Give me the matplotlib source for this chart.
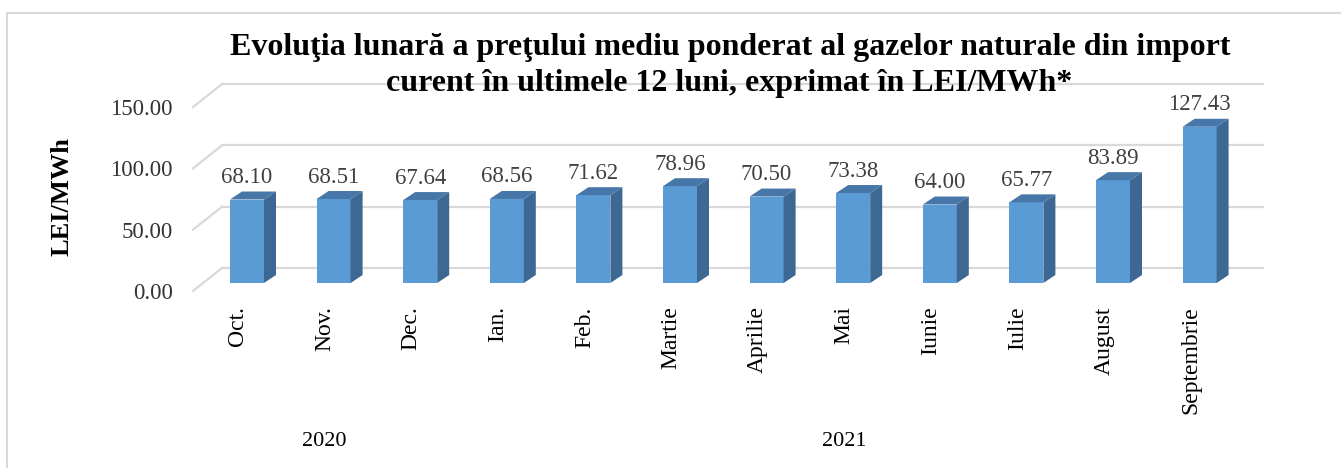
import matplotlib
matplotlib.use("Agg")
import matplotlib.pyplot as plt
from matplotlib.patches import Polygon
from matplotlib.lines import Line2D
from matplotlib.transforms import ScaledTranslation
import numpy as np

months = ["Oct.", "Nov.", "Dec.", "Ian.", "Feb.", "Martie", "Aprilie", "Mai",
          "Iunie", "Iulie", "August", "Septembrie"]
prices = [68.10, 68.51, 67.64, 68.56, 71.62, 78.96, 70.50, 73.38, 64.00, 65.77, 83.89, 127.43]
years = ["2020", "2021"]
year_groups = [(0, 2), (3, 11)]
yticks = [0, 50, 100, 150]

title1 = "Evoluţia lunară a preţului mediu ponderat al gazelor naturale din import"
title2 = "curent în ultimele 12 luni, exprimat în LEI/MWh*"

plt.rcParams["font.family"] = ["Liberation Serif", "DejaVu Serif"]

W, H = 1341, 468
fig = plt.figure(figsize=(W / 100, H / 100), dpi=100)

# layout in pixels (from top-left)
ax_left, ax_right = 193, 1234
zero_px, top_px, bottom_px = 283, 87, 291
px_x = 86.6     # px per category
px_y = 1.226    # px per LEI/MWh
first_center = 247

ax = fig.add_axes([ax_left / W, 1 - bottom_px / H,
                   (ax_right - ax_left) / W, (bottom_px - top_px) / H])
x0 = -(first_center - ax_left) / px_x
x1 = (ax_right - first_center) / px_x
ax.set_xlim(x0, x1)
ax.set_ylim(-(bottom_px - zero_px) / px_y, (zero_px - top_px) / px_y)
for s in ax.spines.values():
    s.set_visible(False)
ax.patch.set_alpha(0)

grid_c = "#d9d9d9"
back_dx, back_dy = 29 / px_x, 15 / px_y
front_dy = 8 / px_y
for v in yticks:
    ax.plot([x0 + back_dx, x1 + back_dx], [v + back_dy, v + back_dy],
            color=grid_c, lw=1.6, clip_on=False, zorder=1)
    ax.plot([x0, x0 + back_dx], [v - front_dy, v + back_dy],
            color=grid_c, lw=1.6, clip_on=False, zorder=1)

# 3D-looking bars
x = np.arange(len(months))
bw = 34 / px_x
ddx, ddy = 12 / px_x, 8 / px_y
front_c, side_c, top_c = "#5b9bd5", "#3d6893", "#4677a8"
ax.bar(x, prices, width=bw, color=front_c, zorder=3)
for xi, v in zip(x, prices):
    r = xi + bw / 2
    l = xi - bw / 2
    ax.add_patch(Polygon([(r, 0), (r + ddx, ddy), (r + ddx, v + ddy), (r, v)],
                         closed=True, facecolor=side_c, edgecolor="none", zorder=3))
    ax.add_patch(Polygon([(l, v), (l + ddx, v + ddy), (r + ddx, v + ddy), (r, v)],
                         closed=True, facecolor=top_c, edgecolor="none", zorder=3))
    ax.text(xi, v + 16.5 / px_y, f"{v:.2f}", ha="center", va="baseline",
            fontsize=16.5, color="#404040", zorder=4)

# y ticks
ax.set_yticks(yticks)
ax.set_yticklabels([f"{v:.2f}" for v in yticks], fontsize=16.5, color="#333333")
ax.tick_params(axis="y", length=0, pad=14.5)
shift_y = ScaledTranslation(0, -8 / 100, fig.dpi_scale_trans)
for lab in ax.get_yticklabels():
    lab.set_transform(lab.get_transform() + shift_y)

# x ticks
ax.set_xticks(x)
ax.set_xticklabels(months, rotation=90, fontsize=17, color="black")
ax.tick_params(axis="x", length=0, pad=11)
shift_x = ScaledTranslation(-9 / 100, 0, fig.dpi_scale_trans)
for lab in ax.get_xticklabels():
    lab.set_transform(lab.get_transform() + shift_x)

# year labels
for yr, (a, b) in zip(years, year_groups):
    xc = (a + b) / 2 - 9 / px_x
    ax.text(xc, -(441 - zero_px) / px_y, yr, ha="center", va="center",
            fontsize=16, color="black")

fig.text(62 / W, 1 - 197 / H, "LEI/MWh", rotation=90, ha="center", va="center",
         fontsize=19, fontweight="bold")
fig.text(730 / W, 1 - 48 / H, title1, ha="center", va="center",
         fontsize=23, fontweight="bold")
fig.text(729 / W, 1 - 84 / H, title2, ha="center", va="center",
         fontsize=23, fontweight="bold")

# chart frame
fig.add_artist(Line2D([7 / W, 7 / W], [0, 1 - 13 / H], color=grid_c, lw=1.5))
fig.add_artist(Line2D([7 / W, 1], [1 - 13 / H, 1 - 13 / H], color=grid_c, lw=1.5))

fig.savefig("out.png", dpi=100)
